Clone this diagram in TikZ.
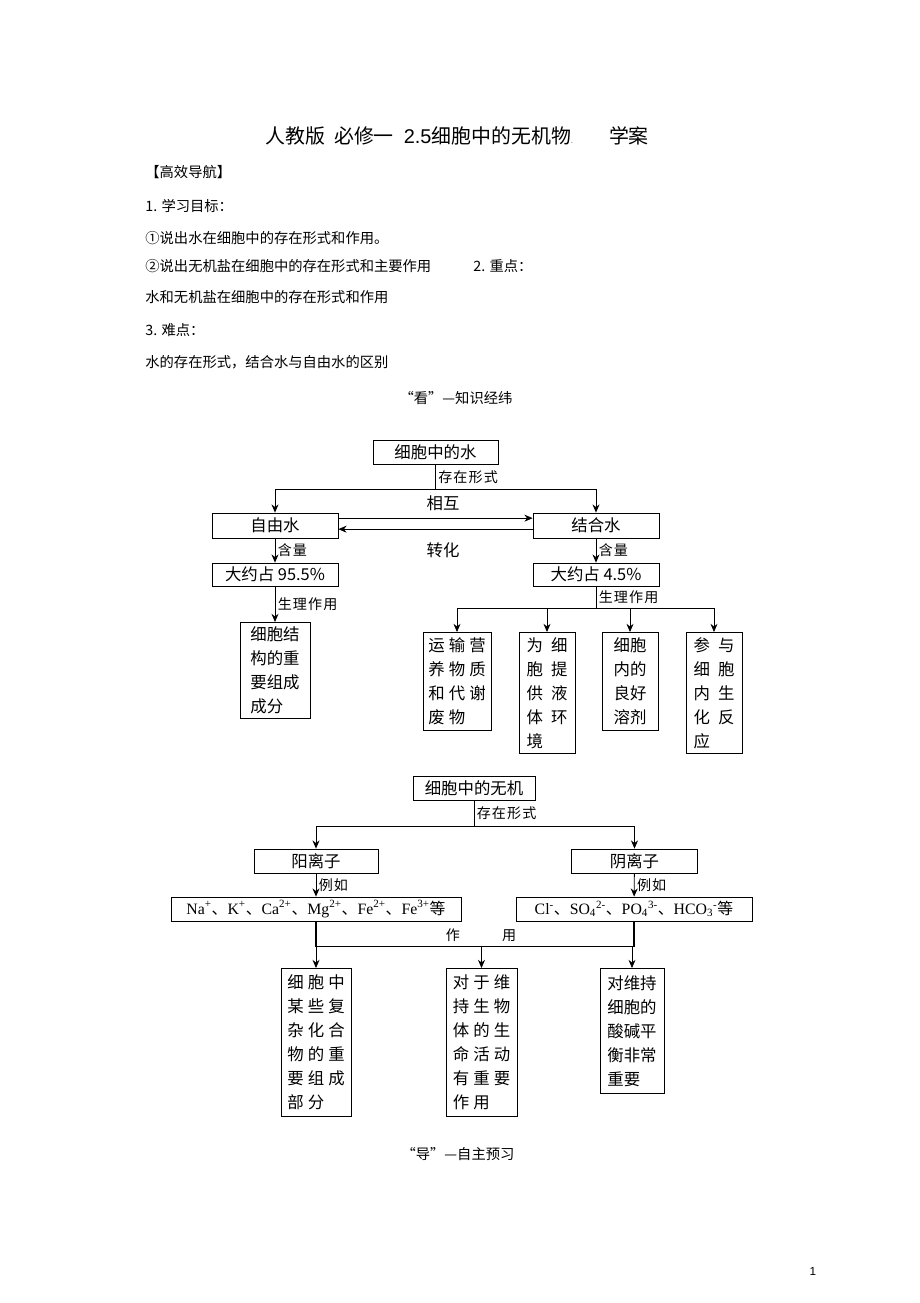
\documentclass[tikz,border=0pt]{standalone}
\usepackage{fontspec}
\setmainfont{Noto Sans CJK SC}
\newfontfamily\cjklab[LetterSpace=8]{Noto Sans CJK SC}
\newfontfamily\cjkmid[LetterSpace=25]{Noto Sans CJK SC}
\newfontfamily\cjkwide[LetterSpace=50]{Noto Sans CJK SC}
\newfontfamily\tnr{Liberation Serif}
\newfontfamily\ars{Liberation Sans}
\usetikzlibrary{positioning,arrows.meta}
\newcommand{\dgsize}{\fontsize{14}{20.5}\selectfont}
\newcommand{\labsize}{\fontsize{12}{14}\selectfont}
\newcommand{\bodysize}{\fontsize{12.2}{14}\selectfont}
\newcommand{\titlesize}{\fontsize{17}{20}\selectfont}
\newcommand{\ionsize}{\fontsize{13.5}{16}\selectfont}
\newcommand{\tn}[1]{{\tnr #1}}

\begin{document}
\begin{tikzpicture}[x=0.03cm, y=-0.03cm, > = {Stealth[length=7pt, width=6pt]}, line width=0.7pt,
box/.style={rectangle, draw, inner sep=0pt, font=\dgsize},
wbox/.style={box, minimum width=3.78cm, minimum height=0.72cm},
colbox/.style={box, anchor=north, align=left},
lab/.style={font=\cjklab\labsize, inner sep=2pt},
txt/.style={anchor=west, inner sep=0pt, font=\bodysize}]

\useasboundingbox (0,0) rectangle (920,1303);

% header text
\node (title) [anchor=west, inner sep=0pt, font=\titlesize] at (265,136) {人教版\hspace{0.45em}必修一\hspace{0.5em}{\ars 2.5}细胞中的无机物{\color{gray}\fontsize{7}{7}\selectfont .}\hspace{1.8em}学案};
\node (nav) [txt] at (145,172) {【高效导航】};
\node (aim) [txt] at (145,206) {1. 学习目标：};
\node (aim1) [txt] at (145,238) {①说出水在细胞中的存在形式和作用。};
\node (aim2) [txt] at (145,266) {②说出无机盐在细胞中的存在形式和主要作用};
\node (key) [txt] at (473,266) {2. 重点：};
\node (keyt) [txt] at (145,297) {水和无机盐在细胞中的存在形式和作用};
\node (hard) [txt] at (145,330) {3. 难点：};
\node (hardt) [txt] at (145,362) {水的存在形式，结合水与自由水的区别};
\node (look) [font=\bodysize] at (456,398) {“看”—知识经纬};

% water in the cell
\node (water) [wbox, minimum width=3.75cm] at (435.5,452) {细胞中的水};
\node (free) [wbox, minimum height=0.75cm] at (275,525.5) {自由水};
\node (bound) [wbox, minimum height=0.75cm] at (596,525.5) {结合水};
\node (p955) [wbox, minimum height=0.69cm] at (275,574.5) {大约占 95.5\%};
\node (p45) [wbox, minimum height=0.69cm] at (596,574.5) {大约占 4.5\%};

\draw (water.south) -- node[lab, right] {存在形式} ++(0,25) coordinate (wj);
\draw[<->] (free.north) |- (wj) -| (bound.north);
\node (mut) [font=\dgsize] at (443,503) {相互};
\node (conv) [font=\dgsize] at (443,550) {转化};
\draw[->] ([yshift=2.2mm]free.east) -- ([yshift=2.2mm]bound.west);
\draw[->] ([yshift=-1.1mm]bound.west) -- ([yshift=-1.1mm]free.east);
\draw[->] (free) -- node[lab, right] {含量} (p955);
\draw[->] (bound) -- node[lab, right] {含量} (p45);

\node (struct) [colbox, minimum width=2.1cm, minimum height=2.88cm] at (275,622) {细胞结\\构的重\\要组成\\成分};
\draw[->] (p955) -- node[lab, right] {生理作用} (struct);

\node (fA) [colbox, font=\cjkmid\dgsize, minimum width=2.04cm, minimum height=2.94cm] at (457,632) {运输营\\养物质\\和代谢\\废物};
\node (fB) [colbox, font=\cjkwide\dgsize, minimum width=1.68cm, minimum height=3.63cm] at (547,632) {为细\\胞提\\供液\\体环\\境};
\node (fC) [colbox, minimum width=1.68cm, minimum height=2.94cm] at (630,632) {细胞\\内的\\良好\\溶剂};
\node (fD) [colbox, font=\cjkwide\dgsize, minimum width=1.68cm, minimum height=3.63cm] at (714,632) {参与\\细胞\\内生\\化反\\应};

\draw (p45.south) -- node[lab, right] {生理作用} ++(0,22) coordinate (bj);
\draw[<->] (fA.north) |- (bj) -| (fD.north);
\foreach \n in {fB, fC}
  \draw[->] (bj -| \n.north) -- (\n.north);

% inorganic salts in the cell
\node (inorg) [wbox, minimum width=3.66cm] at (474,788) {细胞中的无机};
\draw (inorg.south) -- node[lab, right] {存在形式} ++(0,26) coordinate (ij);
\node (cat) [wbox, minimum width=3.72cm] at (316,861) {阳离子};
\node (ani) [wbox] at (634.5,861) {阴离子};
\draw[<->] (cat.north) |- (ij) -| (ani.north);

\node (catex) [wbox, minimum width=8.7cm, font=\ionsize] at (316,909) {\tn{Na\textsuperscript{+}}、\tn{K\textsuperscript{+}}、\tn{Ca\textsuperscript{2+}}、\tn{Mg\textsuperscript{2+}}、\tn{Fe\textsuperscript{2+}}、\tn{Fe\textsuperscript{3+}}等};
\node (aniex) [wbox, minimum width=7.08cm, font=\ionsize] at (634,909) {\tn{Cl\textsuperscript{-}}、\tn{SO\textsubscript{4}\textsuperscript{2-}}、\tn{PO\textsubscript{4}\textsuperscript{3-}}、\tn{HCO\textsubscript{3}\textsuperscript{-}}等};
\draw[->] (cat) -- node[lab, right] {例如} (catex);
\draw[->] (ani) -- node[lab, right] {例如} (aniex);

\draw[line width=1.3pt] (catex.south) -- ++(0,25) coordinate (ej) -| (aniex.south);
\node (act) [font=\labsize] at (481,935) {作\hspace{3em}用};

\node (rE) [colbox, font=\cjkmid\dgsize, minimum width=2.1cm, minimum height=4.44cm] at (316,968) {细胞中\\某些复\\杂化合\\物的重\\要组成\\部分};
\node (rF) [colbox, font=\cjkmid\dgsize, minimum width=2.13cm, minimum height=4.44cm] at (481.5,968) {对于维\\持生物\\体的生\\命活动\\有重要\\作用};
\node (rG) [colbox, minimum width=1.92cm, minimum height=3.75cm] at (632,968) {对维持\\细胞的\\酸碱平\\衡非常\\重要};
\draw[->] (ej) -- (rE.north);
\foreach \n in {rF, rG}
  \draw[->] (ej -| \n.north) -- (\n.north);

\node (guide) [font=\bodysize] at (458,1154) {“导”—自主预习};
\node (pgno) [font=\ars\fontsize{10}{12}\selectfont] at (813,1271) {1};

\end{tikzpicture}
\end{document}
